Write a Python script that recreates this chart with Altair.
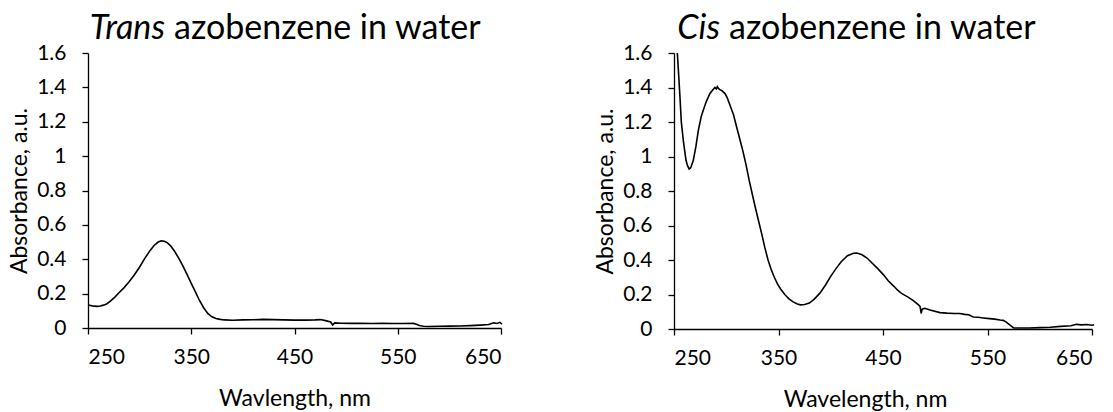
import altair as alt
import pandas as pd

# ---- data ----
trans_wl = [250, 253, 256, 259, 262, 265, 268, 272, 276, 280, 285, 290, 295, 300, 305, 310, 314, 318, 321, 324,
            327, 330, 334, 338, 342, 346, 350, 354, 358, 362, 366, 370, 374, 378, 382, 390, 400, 410, 420, 430,
            440, 450, 460, 470, 475, 480, 485, 487, 489, 495, 505, 515, 525, 535, 545, 555, 565, 568, 571, 575,
            580, 590, 600, 610, 620, 630, 638, 643, 646, 649, 651]
trans_abs = [0.135, 0.13, 0.127, 0.126, 0.128, 0.133, 0.14, 0.158, 0.18, 0.205, 0.235, 0.27, 0.31, 0.355, 0.405, 0.45, 0.48, 0.5, 0.507, 0.505,
             0.495, 0.478, 0.445, 0.405, 0.36, 0.31, 0.26, 0.21, 0.16, 0.118, 0.085, 0.065, 0.055, 0.05, 0.047, 0.045, 0.047, 0.048, 0.05, 0.049,
             0.047, 0.046, 0.046, 0.047, 0.049, 0.043, 0.035, 0.018, 0.03, 0.028, 0.027, 0.027, 0.026, 0.027, 0.026, 0.026, 0.027, 0.022, 0.014, 0.01,
             0.009, 0.01, 0.011, 0.012, 0.014, 0.017, 0.02, 0.03, 0.026, 0.033, 0.022]

cis_wl = [253.2, 254.5, 255.7, 257, 258.9, 260.3, 261.5, 263, 264.5, 266, 268.5, 271, 273.3, 276, 278, 281, 284.4, 287, 289.2, 290.5,
          291.5, 292.5, 294, 296, 298.8, 301, 303.6, 307, 310, 313, 316, 319, 322, 325, 328, 331, 334, 337, 340, 343,
          346, 349, 352, 356, 360, 364, 368, 371, 375, 379.5, 384, 389.6, 395, 399.8, 405, 410, 416, 421.8, 425, 430, 435,
          440, 445, 450.5, 455, 460.7, 464, 467.4, 471, 474, 479, 484, 485.5, 486.5, 487.5, 490, 495, 504.5, 511, 518, 523.6,
          528, 532, 536.4, 541, 546, 552, 557, 562, 565, 568, 571, 575, 580, 590, 600, 610, 620, 630, 635, 640,
          645, 650, 652]
cis_abs = [1.6, 1.47, 1.345, 1.2, 1.094, 1.03, 0.978, 0.945, 0.928, 0.935, 0.978, 1.06, 1.152, 1.23, 1.268, 1.32, 1.365, 1.385, 1.40, 1.392,
           1.405, 1.395, 1.388, 1.38, 1.365, 1.34, 1.297, 1.24, 1.17, 1.10, 1.03, 0.95, 0.86, 0.78, 0.70, 0.625, 0.55, 0.47, 0.40, 0.345,
           0.30, 0.262, 0.232, 0.20, 0.175, 0.157, 0.145, 0.14, 0.142, 0.15, 0.172, 0.208, 0.255, 0.304, 0.35, 0.39, 0.425, 0.439, 0.44, 0.43, 0.41,
           0.38, 0.35, 0.314, 0.28, 0.246, 0.225, 0.208, 0.195, 0.185, 0.165, 0.14, 0.13, 0.09, 0.115, 0.12, 0.11, 0.095, 0.092, 0.09, 0.09,
           0.085, 0.083, 0.07, 0.068, 0.064, 0.06, 0.057, 0.052, 0.05, 0.04, 0.025, 0.006, 0.006, 0.006, 0.008, 0.01, 0.015, 0.019, 0.027, 0.024,
           0.026, 0.022, 0.025]

x_ticks = [250, 350, 450, 550, 650]
y_ticks = [0, 0.2, 0.4, 0.6, 0.8, 1.0, 1.2, 1.4, 1.6]

FONT = "Lato"
LBL = 21
TTL = 23
HEAD = 34


def panel(wl, ab, w, h, head_italic, head_rest, split_r, split_l, xtitle, xtitle_x):
    df = pd.DataFrame({"wl": wl, "ab": ab})
    line = alt.Chart(df).mark_line(color="black", strokeWidth=1.6).encode(
        x=alt.X("wl:Q",
                scale=alt.Scale(domain=[250, 650], nice=False, zero=False),
                axis=alt.Axis(values=x_ticks, title=xtitle, grid=False,
                              titleX=xtitle_x, titleY=70, titleBaseline="middle",
                              titleAlign="center", labelPadding=12)),
        y=alt.Y("ab:Q",
                scale=alt.Scale(domain=[0, 1.6], nice=False),
                axis=alt.Axis(values=y_ticks, format=".1~f", title="Absorbance, a.u.", grid=False,
                              titleX=-69, titleY=h / 2, titleBaseline="middle", titleAlign="center",
                              titleAngle=270, labelPadding=16)),
    )
    t1 = alt.Chart(pd.DataFrame({"t": [head_italic]})).mark_text(
        align="right", baseline="alphabetic", font=FONT, fontSize=HEAD, fontStyle="italic", color="black"
    ).encode(x=alt.value(split_r), y=alt.value(-14), text="t:N")
    t2 = alt.Chart(pd.DataFrame({"t": [head_rest]})).mark_text(
        align="left", baseline="alphabetic", font=FONT, fontSize=HEAD, color="black"
    ).encode(x=alt.value(split_l), y=alt.value(-14), text="t:N")
    return alt.layer(line, t1, t2).properties(width=w, height=h)


left = panel(trans_wl, trans_abs, 413, 275, "Trans", "azobenzene in water", 77, 86, "Wavlength, nm", 206.5)
right = panel(cis_wl, cis_abs, 418, 276, "Cis", "azobenzene in water", 46, 55, "Wavelength, nm", 191)

chart = alt.hconcat(left, right, spacing=173, bounds="flush").properties(
    padding={"left": 8, "top": 12, "right": 5, "bottom": 5},
    background="white",
).configure_view(stroke=None).configure_axis(
    domainColor="black", tickColor="black", labelColor="black", titleColor="black",
    domainWidth=1.3, tickWidth=1.3, tickSize=6,
    labelFont=FONT, titleFont=FONT, labelFontSize=LBL, titleFontSize=TTL,
    titleFontWeight="normal"
)

chart.save("out.html", embed_options={"renderer": "svg", "actions": False})
